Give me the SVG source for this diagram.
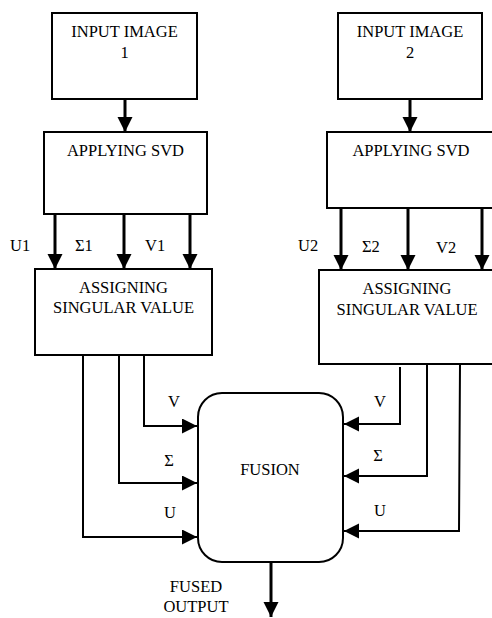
<svg xmlns="http://www.w3.org/2000/svg" width="492" height="618" viewBox="0 0 492 618" font-family="Liberation Serif, DejaVu Serif, serif">
<style>
  .box { fill: #fff; stroke: #000; stroke-width: 2; }
  .t { font-size: 16.5px; fill: #000; }
  .c { text-anchor: middle; }
  .arr { fill: none; stroke: #000; stroke-width: 3; }
  .wire { fill: none; stroke: #000; stroke-width: 2; }
</style>
<defs>
  <marker id="ah" markerUnits="userSpaceOnUse" markerWidth="16" markerHeight="16" refX="15" refY="7.5" orient="auto" viewBox="0 0 16 16">
    <path d="M0,0 L15,7.5 L0,15 Z" fill="#000"/>
  </marker>
</defs>
<rect width="492" height="618" fill="#fff"/>

<g id="input1">
  <rect class="box" x="52" y="13" width="145" height="86"/>
  <text class="t c" x="124.5" y="37">INPUT IMAGE</text>
  <text class="t c" x="124.5" y="58">1</text>
</g>
<g id="svd1">
  <rect class="box" x="44" y="132" width="163" height="82"/>
  <text class="t c" x="125.5" y="156">APPLYING SVD</text>
</g>
<g id="assign1">
  <rect class="box" x="35" y="269" width="177" height="86"/>
  <text class="t c" x="123.5" y="293">ASSIGNING</text>
  <text class="t c" x="123.5" y="313">SINGULAR VALUE</text>
</g>
<g id="input2">
  <rect class="box" x="338" y="13" width="144" height="86"/>
  <text class="t c" x="410" y="37">INPUT IMAGE</text>
  <text class="t c" x="410" y="58">2</text>
</g>
<g id="svd2">
  <rect class="box" x="327" y="132" width="180" height="76"/>
  <text class="t c" x="411" y="156">APPLYING SVD</text>
</g>
<g id="assign2">
  <rect class="box" x="319" y="270" width="190" height="94"/>
  <text class="t c" x="407" y="294">ASSIGNING</text>
  <text class="t c" x="407" y="315">SINGULAR VALUE</text>
</g>
<g id="fusion">
  <rect class="box" x="198" y="393" width="145" height="169" rx="24" ry="24"/>
  <text class="t c" x="270" y="475">FUSION</text>
</g>

<g id="connectors">
  <line class="arr" x1="125" y1="99" x2="125" y2="132" marker-end="url(#ah)"/>
  <line class="arr" x1="410" y1="99" x2="410" y2="132" marker-end="url(#ah)"/>
  <line class="arr" x1="55" y1="214" x2="55" y2="269" marker-end="url(#ah)"/>
  <line class="arr" x1="124" y1="214" x2="124" y2="269" marker-end="url(#ah)"/>
  <line class="arr" x1="190" y1="214" x2="190" y2="269" marker-end="url(#ah)"/>
  <line class="arr" x1="341" y1="208" x2="341" y2="270" marker-end="url(#ah)"/>
  <line class="arr" x1="408" y1="208" x2="408" y2="270" marker-end="url(#ah)"/>
  <line class="arr" x1="482" y1="208" x2="482" y2="270" marker-end="url(#ah)"/>
  <polyline class="wire" points="144,355 144,426 197,426" marker-end="url(#ah)"/>
  <polyline class="wire" points="119,355 119,483 197,483" marker-end="url(#ah)"/>
  <polyline class="wire" points="83,355 83,537 197,537" marker-end="url(#ah)"/>
  <polyline class="wire" points="400,367 400,424 344,424" marker-end="url(#ah)"/>
  <polyline class="wire" points="427,364 427,476 344,476" marker-end="url(#ah)"/>
  <polyline class="wire" points="460,364 459,531 344,531" marker-end="url(#ah)"/>
  <line class="arr" x1="271" y1="562" x2="271" y2="617" marker-end="url(#ah)"/>
  <text class="t" x="10" y="251">U1</text>
  <text class="t" x="75" y="251">Σ1</text>
  <text class="t" x="145" y="251">V1</text>
  <text class="t" x="298" y="251">U2</text>
  <text class="t" x="362" y="252">Σ2</text>
  <text class="t" x="436" y="253">V2</text>
  <text class="t c" x="174" y="407">V</text>
  <text class="t c" x="169" y="466">Σ</text>
  <text class="t c" x="170" y="518">U</text>
  <text class="t c" x="380" y="407">V</text>
  <text class="t c" x="378" y="461">Σ</text>
  <text class="t c" x="380" y="516">U</text>
  <text class="t c" x="196" y="592">FUSED</text>
  <text class="t c" x="196" y="612">OUTPUT</text>
</g>
</svg>
